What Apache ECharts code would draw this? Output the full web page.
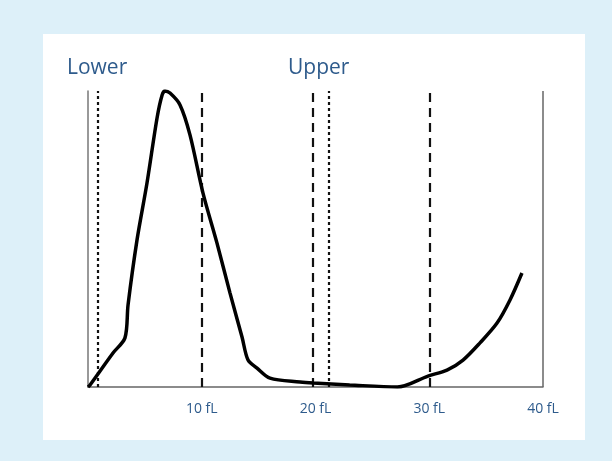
<!DOCTYPE html>
<html>
<head>
<meta charset="utf-8">
<script src="https://cdn.jsdelivr.net/npm/echarts@6/dist/echarts.min.js"></script>
<style>
html,body{margin:0;padding:0;background:#ddf0f9;}
#c{width:612px;height:461px;}
</style>
</head>
<body>
<div id="c"></div>
<script>
// Volume (fL) vs relative count
const curveX = [0, 0.18, 2.2, 3.25, 3.52, 4.31, 5.19, 6.07, 6.51, 6.77, 7.21, 8.09, 8.97, 10.11, 11.34, 12.48, 13.54, 14.07, 14.86, 16.0, 18.64, 19.8, 23.0, 27.2, 29.89, 31.56, 32.97, 34.46, 35.96, 37.1, 38.15];
const curveY = [0, 0.7, 11.5, 16.6, 27.7, 49.7, 69.0, 90.9, 98.6, 100, 99.3, 95.3, 85.1, 65.5, 48.6, 31.8, 16.9, 9.1, 6.4, 3.0, 1.7, 1.35, 0.7, 0, 3.7, 5.7, 9.1, 14.9, 21.6, 29.4, 38.5];
const dashedLines = [10, 19.8, 30];
const dottedLines = [0.88, 21.2];
const xTicks = [10, 20, 30, 40];
const thresholdLabels = ['Lower', 'Upper'];

const labelColor = '#2e5b8c';
const curveData = curveX.map((x, i) => [x, curveY[i]]);

const chart = echarts.init(document.getElementById('c'));
chart.setOption({
  backgroundColor: '#ddf0f9',
  animation: false,
  graphic: [
    { type: 'rect', shape: { x: 43, y: 34, width: 542, height: 406 }, style: { fill: '#ffffff' }, z: -10 },
    { type: 'text', left: 67, top: 58, style: { text: thresholdLabels[0], font: '21px "Open Sans", sans-serif', fill: labelColor } },
    { type: 'text', left: 288, top: 58, style: { text: thresholdLabels[1], font: '21px "Open Sans", sans-serif', fill: labelColor } }
  ],
  grid: { left: 88, right: 69, top: 91, bottom: 74 },
  xAxis: {
    type: 'value', min: 0, max: 40, interval: 10,
    splitLine: { show: false },
    axisTick: { show: false },
    axisLine: { show: true, lineStyle: { color: '#666', width: 1.5 } },
    axisLabel: {
      margin: 15,
      color: labelColor,
      fontFamily: 'Open Sans',
      fontSize: 14,
      formatter: v => xTicks.indexOf(v) >= 0 ? v + ' fL' : '',
      showMinLabel: false
    }
  },
  yAxis: {
    type: 'value', min: 0, max: 100,
    splitLine: { show: false },
    axisTick: { show: false },
    axisLabel: { show: false },
    axisLine: { show: true, lineStyle: { color: '#777', width: 1.5 } }
  },
  series: [
    {
      type: 'line',
      data: curveData,
      showSymbol: false,
      smooth: 0.3,
      lineStyle: { color: '#000', width: 3.5 },
      z: 5,
      markLine: {
        silent: true,
        symbol: 'none',
        label: { show: false },
        data: [
          ...dashedLines.map(v => ({ xAxis: v, lineStyle: { type: [9, 6], width: 2.2, color: '#111' } })),
          ...dottedLines.map(v => ({ xAxis: v, lineStyle: { type: [3, 3], width: 2.2, color: '#111' } })),
          { xAxis: 40, lineStyle: { type: 'solid', width: 1.5, color: '#666' } },
          { xAxis: 40.3, lineStyle: { type: 'solid', width: 1, color: '#bbb' } }
        ]
      }
    }
  ]
});
</script>
</body>
</html>
